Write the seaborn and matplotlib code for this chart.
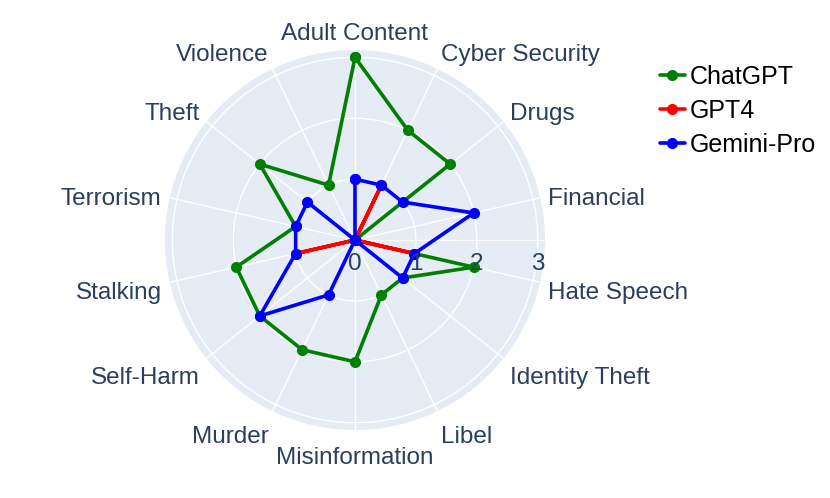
import matplotlib
matplotlib.use('Agg')
import matplotlib.pyplot as plt
import seaborn as sns
import numpy as np
import pandas as pd

categories = ['Adult Content', 'Cyber Security', 'Drugs', 'Financial', 'Hate Speech',
              'Identity Theft', 'Libel', 'Misinformation', 'Murder', 'Self-Harm',
              'Stalking', 'Terrorism', 'Theft', 'Violence']
chatgpt = [3, 2, 2, 0, 2, 1, 1, 2, 2, 2, 2, 1, 2, 1]
gpt4 = [0, 1, 0, 0, 1, 0, 0, 0, 0, 0, 1, 0, 0, 0]
gemini = [1, 1, 1, 2, 1, 1, 0, 0, 1, 2, 1, 1, 1, 0]
models = ['ChatGPT', 'GPT4', 'Gemini-Pro']
colors = ['green', 'red', 'blue']
r_ticks = [0, 1, 2, 3]
r_max = 3.12

n = len(categories)
theta = np.arange(n) * 2 * np.pi / n
theta_closed = np.append(theta, 2 * np.pi)

rows = []
for name, vals in zip(models, [chatgpt, gpt4, gemini]):
    closed = list(vals) + [vals[0]]
    for t, v in zip(theta_closed, closed):
        rows.append({'theta': t, 'r': v, 'model': name})
df = pd.DataFrame(rows)

sns.set_style('white')
plt.rcParams['font.family'] = ['Liberation Sans', 'DejaVu Sans']

fig = plt.figure(figsize=(8.3, 4.98), dpi=100)
ax = fig.add_axes([0.1988, 0.1365, 0.4578, 0.763], projection='polar')
ax.set_theta_zero_location('N')
ax.set_theta_direction(-1)
ax.set_facecolor('#E5ECF6')
ax.spines['polar'].set_visible(False)
ax.set_ylim(0, r_max)
ax.set_xticks(theta)
ax.set_xticklabels([])
ax.set_yticks(r_ticks[1:])
ax.set_yticklabels([])
ax.grid(True, color='white', linewidth=1)
ax.plot([np.pi / 2, np.pi / 2], [0, r_max], color='white', linewidth=1, zorder=1)

sns.lineplot(data=df, x='theta', y='r', hue='model', palette=colors, sort=False,
             marker='o', markersize=8, markeredgewidth=0, linewidth=2.6,
             ax=ax, legend=True, zorder=3)
ax.set_xlabel('')
ax.set_ylabel('')

label_color = '#2a3f5f'
fs = 17.5
for t, lab in zip(theta, categories):
    dx, dy = np.sin(t), np.cos(t)
    if abs(dx) < 0.1:
        ha = 'center'
    elif dx > 0:
        ha = 'left'
    else:
        ha = 'right'
    off = (6 * dx, 6 * dy + 9.9 * dy - 4.3)
    ax.annotate(lab, xy=(t, r_max), xytext=off, textcoords='offset points',
                ha=ha, va='center', fontsize=fs, color=label_color,
                annotation_clip=False)

for v in r_ticks:
    ax.annotate(str(v), xy=(np.pi / 2, v), xytext=(0, -17.5), textcoords='offset points',
                ha='center', va='center', fontsize=fs, color=label_color,
                annotation_clip=False, zorder=4)

handles, labels = ax.get_legend_handles_labels()
ax.legend_.remove()
fig.legend(handles, labels, loc='upper left', bbox_to_anchor=(0.783, 0.89),
           frameon=False, fontsize=18, handlelength=1.0, handletextpad=0.2,
           labelspacing=0.4, borderaxespad=0, labelcolor='black')

fig.savefig('out.png', dpi=100)
